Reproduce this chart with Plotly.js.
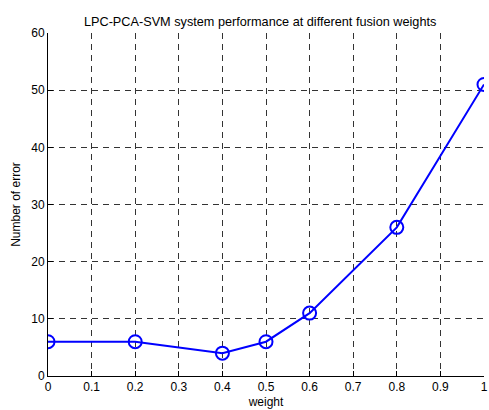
<!DOCTYPE html>
<html><head><meta charset="utf-8">
<script src="https://cdn.plot.ly/plotly-3.0.1.min.js"></script>
<style>html,body{margin:0;padding:0;background:#fff;}#chart{width:489px;height:410px;}</style>
</head><body><div id="chart"></div>
<script>
const weights = [0, 0.2, 0.4, 0.5, 0.6, 0.8, 1];
const errors = [6, 6, 4, 6, 11, 26, 51];
const xTicks = [0, 0.1, 0.2, 0.3, 0.4, 0.5, 0.6, 0.7, 0.8, 0.9, 1];
const xTickText = ['0', '0.1', '0.2', '0.3', '0.4', '0.5', '0.6', '0.7', '0.8', '0.9', '1'];
const yTicks = [0, 10, 20, 30, 40, 50, 60];

const font = {family: 'Liberation Sans, Arial, sans-serif', size: 12, color: '#000'};
const titleFont = {family: 'Liberation Sans, Arial, sans-serif', size: 12.7, color: '#000'};
const trace = {
  x: weights, y: errors, type: 'scatter', mode: 'lines+markers',
  line: {color: '#0000ff', width: 2},
  marker: {symbol: 'circle-open', size: 13, color: '#0000ff', line: {color: '#0000ff', width: 2}},
  hoverinfo: 'none', showlegend: false
};
const layout = {
  width: 489, height: 410,
  margin: {l: 48, r: 5, t: 33, b: 34},
  paper_bgcolor: '#fff', plot_bgcolor: '#fff',
  font: font,
  showlegend: false,
  title: {text: 'LPC-PCA-SVM system performance at different fusion weights', font: titleFont, x: 0.532, xanchor: 'center', y: 0.947, yanchor: 'middle'},
  xaxis: {
    range: [0, 1], tickvals: xTicks, ticktext: xTickText, ticks: 'inside', ticklen: 5, tickcolor: '#000',
    showline: true, linecolor: '#000', linewidth: 1, zeroline: false,
    showgrid: true, gridcolor: '#333', gridwidth: 1, griddash: '6px,5px',
    title: {text: 'weight', font: font, standoff: 4}, tickfont: font
  },
  yaxis: {
    range: [0, 60], tickvals: yTicks, ticks: 'inside', ticklen: 5, tickcolor: '#000',
    showline: true, linecolor: '#000', linewidth: 1, zeroline: false,
    showgrid: true, gridcolor: '#333', gridwidth: 1, griddash: '6px,5px',
    title: {text: 'Number of error', font: font, standoff: 8}, tickfont: font
  },
  xaxis2: {overlaying: 'x', side: 'top', range: [0, 1], tickvals: xTicks, ticks: 'inside', ticklen: 5, tickcolor: '#000', showticklabels: false, showgrid: false, zeroline: false, showline: false},
  yaxis2: {overlaying: 'y', side: 'right', range: [0, 60], tickvals: yTicks, ticks: 'inside', ticklen: 5, tickcolor: '#000', showticklabels: false, showgrid: false, zeroline: false, showline: false}
};
Plotly.newPlot('chart', [trace], layout, {staticPlot: true, displayModeBar: false});
</script></body></html>
